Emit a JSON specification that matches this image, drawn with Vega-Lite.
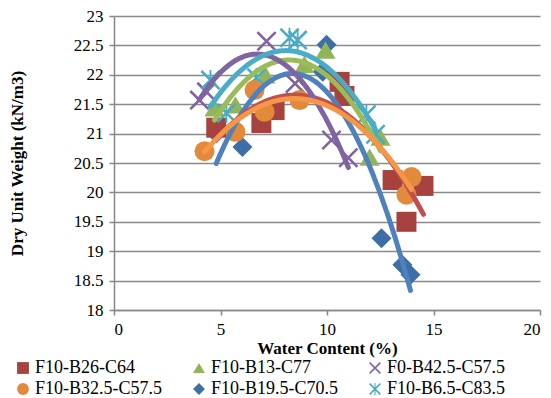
{
  "$schema": "https://vega.github.io/schema/vega-lite/v6.json",
  "width": 426,
  "height": 294,
  "autosize": {"type": "none"},
  "padding": {"left": 114, "top": 16, "right": 11, "bottom": 88},
  "background": "white",
  "config": {
    "view": {"stroke": null},
    "font": "'Liberation Serif', 'Times New Roman', serif",
    "axis": {
      "labelFont": "'Liberation Serif', 'Times New Roman', serif",
      "labelFontSize": 17,
      "labelColor": "black",
      "labelOverlap": false,
      "titleFont": "'Liberation Serif', 'Times New Roman', serif",
      "titleFontSize": 17,
      "titleFontWeight": "bold",
      "titleColor": "black",
      "domainColor": "#868686",
      "domainWidth": 1.5,
      "tickColor": "#868686",
      "tickWidth": 1.5
    },
    "legend": {
      "labelFont": "'Liberation Serif', 'Times New Roman', serif"
    }
  },
  "data": {
    "values": [
      {"series": "F10-B19.5-C70.5", "w": 4.8, "d": 21.0},
      {"series": "F10-B19.5-C70.5", "w": 6.03, "d": 20.77},
      {"series": "F10-B19.5-C70.5", "w": 7.44, "d": 21.42},
      {"series": "F10-B19.5-C70.5", "w": 9.8, "d": 22.05},
      {"series": "F10-B19.5-C70.5", "w": 9.98, "d": 22.51},
      {"series": "F10-B19.5-C70.5", "w": 12.56, "d": 19.22},
      {"series": "F10-B19.5-C70.5", "w": 13.54, "d": 18.77},
      {"series": "F10-B19.5-C70.5", "w": 13.92, "d": 18.6},
      {"series": "F10-B26-C64", "w": 4.8, "d": 21.1},
      {"series": "F10-B26-C64", "w": 6.92, "d": 21.18},
      {"series": "F10-B26-C64", "w": 7.54, "d": 21.4},
      {"series": "F10-B26-C64", "w": 10.59, "d": 21.88},
      {"series": "F10-B26-C64", "w": 10.82, "d": 21.64},
      {"series": "F10-B26-C64", "w": 13.08, "d": 20.21},
      {"series": "F10-B26-C64", "w": 13.73, "d": 19.5},
      {"series": "F10-B26-C64", "w": 14.53, "d": 20.11},
      {"series": "F10-B13-C77", "w": 4.72, "d": 21.44},
      {"series": "F10-B13-C77", "w": 5.7, "d": 21.49},
      {"series": "F10-B13-C77", "w": 7.11, "d": 22.0},
      {"series": "F10-B13-C77", "w": 8.94, "d": 22.18},
      {"series": "F10-B13-C77", "w": 9.93, "d": 22.42},
      {"series": "F10-B13-C77", "w": 12.0, "d": 20.6},
      {"series": "F10-B13-C77", "w": 12.51, "d": 20.94},
      {"series": "F0-B42.5-C57.5", "w": 4.01, "d": 21.57},
      {"series": "F0-B42.5-C57.5", "w": 4.34, "d": 21.71},
      {"series": "F0-B42.5-C57.5", "w": 7.16, "d": 22.57},
      {"series": "F0-B42.5-C57.5", "w": 8.5, "d": 21.85},
      {"series": "F0-B42.5-C57.5", "w": 10.21, "d": 20.89},
      {"series": "F0-B42.5-C57.5", "w": 11.0, "d": 20.59},
      {"series": "F10-B6.5-C83.5", "w": 4.53, "d": 21.91},
      {"series": "F10-B6.5-C83.5", "w": 5.28, "d": 21.35},
      {"series": "F10-B6.5-C83.5", "w": 6.69, "d": 21.95},
      {"series": "F10-B6.5-C83.5", "w": 8.24, "d": 22.63},
      {"series": "F10-B6.5-C83.5", "w": 8.62, "d": 22.59},
      {"series": "F10-B6.5-C83.5", "w": 11.85, "d": 21.32},
      {"series": "F10-B6.5-C83.5", "w": 12.28, "d": 20.99},
      {"series": "F10-B32.5-C57.5", "w": 4.25, "d": 20.7},
      {"series": "F10-B32.5-C57.5", "w": 5.7, "d": 21.03},
      {"series": "F10-B32.5-C57.5", "w": 6.6, "d": 21.74},
      {"series": "F10-B32.5-C57.5", "w": 7.07, "d": 21.37},
      {"series": "F10-B32.5-C57.5", "w": 8.71, "d": 21.57},
      {"series": "F10-B32.5-C57.5", "w": 13.73, "d": 19.96},
      {"series": "F10-B32.5-C57.5", "w": 13.97, "d": 20.26}
    ]
  },
  "encoding": {
    "x": {
      "field": "w", "type": "quantitative",
      "scale": {"domain": [0, 20], "nice": false},
      "axis": {"values": [0, 5, 10, 15, 20], "tickCount": 20, "grid": false, "tickSize": 5, "labelPadding": 6, "title": "Water Content (%)", "titlePadding": 3}
    }
  },
  "layer": [
    {
      "mark": {"type": "point", "filled": true, "opacity": 1, "size": 400, "strokeWidth": 0},
      "encoding": {
        "y": {
          "field": "d", "type": "quantitative",
          "scale": {"domain": [18, 23], "nice": false, "zero": false},
          "axis": {"tickCount": 10, "labelExpr": "'' + datum.value", "labelOverlap": false, "grid": false, "tickSize": 5, "labelPadding": 6, "title": "Dry Unit Weight (kN/m3)", "titleX": -97, "titleY": 147, "titleAngle": -90, "titleAlign": "center", "titleBaseline": "middle", "zindex": 0}
        },
        "fill": {
          "field": "series", "type": "nominal",
          "scale": {
            "domain": ["F10-B26-C64", "F10-B13-C77", "F0-B42.5-C57.5", "F10-B32.5-C57.5", "F10-B19.5-C70.5", "F10-B6.5-C83.5"],
            "range": ["#A8423F", "#93B55A", "#7F63A2", "#E2893B", "#3D6EA8", "#4AABC5"]
          },
          "legend": {
            "title": null, "orient": "none", "legendX": -100, "legendY": 343, "columns": 3, "direction": "horizontal",
            "gridAlign": "all", "columnPadding": 27, "rowPadding": 3, "symbolSize": 140,
            "labelFontSize": 18, "labelColor": "black", "labelOffset": 3, "symbolStrokeWidth": 0
          }
        },
        "shape": {
          "field": "series", "type": "nominal",
          "scale": {
            "domain": ["F10-B26-C64", "F10-B13-C77", "F0-B42.5-C57.5", "F10-B32.5-C57.5", "F10-B19.5-C70.5", "F10-B6.5-C83.5"],
            "range": ["square", "triangle-up", "M-1,-0.82L-0.82,-1L1,0.82L0.82,1ZM0.82,-1L1,-0.82L-0.82,1L-1,0.82Z", "circle", "diamond", "M-1,-0.82L-0.82,-1L1,0.82L0.82,1ZM0.82,-1L1,-0.82L-0.82,1L-1,0.82ZM-0.09,-1L0.09,-1L0.09,1L-0.09,1Z"]
          },
          "legend": {
            "title": null, "orient": "none", "legendX": -100, "legendY": 343, "columns": 3, "direction": "horizontal",
            "gridAlign": "all", "columnPadding": 27, "rowPadding": 3, "symbolSize": 140,
            "labelFontSize": 18, "labelColor": "black", "labelOffset": 3, "symbolStrokeWidth": 0
          }
        }
      }
    },
    {
      "transform": [
        {"regression": "d", "on": "w", "groupby": ["series"], "method": "poly", "order": 2}
      ],
      "mark": {"type": "line", "strokeWidth": 5, "strokeCap": "round", "strokeJoin": "round"},
      "encoding": {
        "y": {
          "field": "d", "type": "quantitative",
          "axis": {"orient": "right", "tickCount": 10, "labels": false, "domain": false, "ticks": true, "tickSize": -426, "tickColor": "#8a8a8a", "tickWidth": 1.4, "grid": false, "title": null, "zindex": 0}
        },
        "stroke": {
          "field": "series", "type": "nominal",
          "scale": {
            "domain": ["F10-B19.5-C70.5", "F10-B26-C64", "F10-B13-C77", "F0-B42.5-C57.5", "F10-B6.5-C83.5", "F10-B32.5-C57.5"],
            "range": ["#4F81BD", "#C0504D", "#9BBB59", "#8064A2", "#4BACC6", "#F79646"]
          },
          "legend": null
        }
      }
    }
  ],
  "resolve": {"axis": {"y": "independent"}}
}
